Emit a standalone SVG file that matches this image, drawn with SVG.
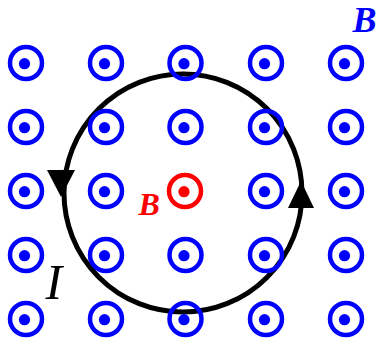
<svg xmlns="http://www.w3.org/2000/svg" xmlns:xlink="http://www.w3.org/1999/xlink" width="378" height="342" viewBox="0 0 378 342">
<style>
.ring{fill:none;stroke:#0000ff;stroke-width:4.5}
.dot{fill:#0000ff}
.loop{fill:none;stroke:#000;stroke-width:5}
.head{fill:#000}
.lbl{font-family:"Liberation Serif","Times New Roman",serif;font-style:italic}
</style>
<defs>
<g id="field">
<circle class="ring" cx="0" cy="0" r="16"/>
<circle class="dot" cx="-1.5" cy="0.7" r="5.6"/>
</g>
</defs>
<g id="connectors">
<circle class="loop" cx="183" cy="193" r="119"/>
<polygon class="head" points="47,170 75,170 61,197"/>
<polygon class="head" points="288,208 314,208 301,181"/>
</g>
<g id="field-grid">
<use xlink:href="#field" x="26" y="63"/>
<use xlink:href="#field" x="106" y="63"/>
<use xlink:href="#field" x="185.5" y="63"/>
<use xlink:href="#field" x="266" y="63"/>
<use xlink:href="#field" x="346" y="63"/>
<use xlink:href="#field" x="26" y="127"/>
<use xlink:href="#field" x="106" y="127"/>
<use xlink:href="#field" x="185.5" y="127"/>
<use xlink:href="#field" x="266" y="127"/>
<use xlink:href="#field" x="346" y="127"/>
<use xlink:href="#field" x="26" y="191"/>
<use xlink:href="#field" x="106" y="191"/>
<use xlink:href="#field" x="266" y="191"/>
<use xlink:href="#field" x="346" y="191"/>
<use xlink:href="#field" x="26" y="255"/>
<use xlink:href="#field" x="106" y="255"/>
<use xlink:href="#field" x="185.5" y="255"/>
<use xlink:href="#field" x="266" y="255"/>
<use xlink:href="#field" x="346" y="255"/>
<use xlink:href="#field" x="26" y="319"/>
<use xlink:href="#field" x="106" y="319"/>
<use xlink:href="#field" x="185.5" y="319"/>
<use xlink:href="#field" x="266" y="319"/>
<use xlink:href="#field" x="346" y="319"/>
</g>
<g id="center-field">
<circle cx="185" cy="191" r="16" fill="none" stroke="#ff0000" stroke-width="4.5"/>
<circle cx="184" cy="191.7" r="5.6" fill="#ff0000"/>
</g>
<g id="label-B-top"><text class="lbl" x="352.6" y="31.7" font-size="36" font-weight="bold" fill="#0000ff">B</text></g>
<g id="label-B-center"><text class="lbl" x="138.5" y="215" font-size="32" font-weight="bold" fill="#ff0000">B</text></g>
<g id="label-I"><text class="lbl" x="45.4" y="299" font-size="50" fill="#000">I</text></g>
</svg>
